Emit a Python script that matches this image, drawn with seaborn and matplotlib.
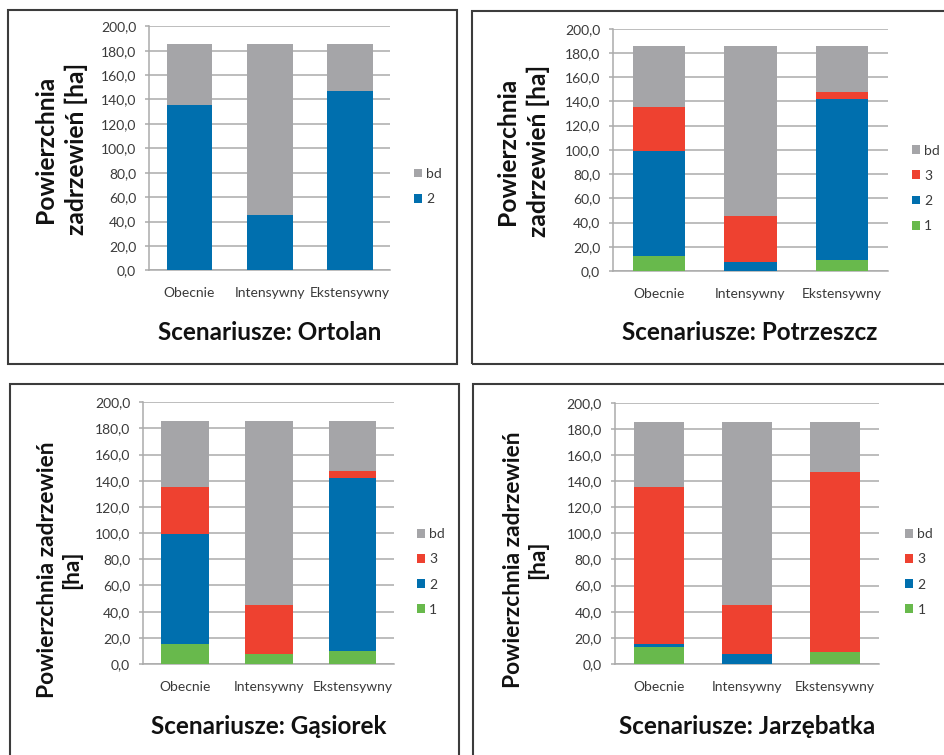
import matplotlib
matplotlib.use("Agg")
import matplotlib.pyplot as plt
from matplotlib.patches import Patch, Rectangle
from matplotlib.ticker import FuncFormatter
import seaborn as sns
import numpy as np

sns.set_theme(style="white")
plt.rcParams["font.family"] = ["Lato", "DejaVu Sans"]

# Scenarios on the category axis
scenarios = ["Obecnie", "Intensywny", "Ekstensywny"]

# Area of tree cover [ha] per suitability class, one list per species
ortolan_2 = [135.3, 45.4, 147.0]
ortolan_bd = [50.2, 140.1, 38.5]

potrzeszcz_1 = [12.4, 0.0, 9.4]
potrzeszcz_2 = [86.9, 7.7, 132.8]
potrzeszcz_3 = [35.9, 37.7, 5.3]
potrzeszcz_bd = [50.3, 140.1, 38.0]

gasiorek_1 = [15.4, 7.6, 9.7]
gasiorek_2 = [84.2, 0.0, 132.7]
gasiorek_3 = [35.7, 37.6, 5.1]
gasiorek_bd = [50.2, 140.3, 38.0]

jarzebatka_1 = [12.8, 0.0, 9.2]
jarzebatka_2 = [2.3, 7.7, 0.0]
jarzebatka_3 = [120.4, 37.5, 137.8]
jarzebatka_bd = [50.0, 140.3, 38.5]

y_ticks = list(range(0, 201, 20))

COLORS = {"1": "#68B94C", "2": "#006FAE", "3": "#EE4130", "bd": "#A5A5A8"}
GRID = "#ABABAB"
TEXT = "#3A3A3A"

W, H = 945, 755
fig = plt.figure(figsize=(W / 100, H / 100), dpi=100)
fig.patch.set_facecolor("white")


def fx(x):
    return x / W


def fy(y):
    return 1 - y / H


def frame(x0, y0, x1, y1):
    fig.patches.append(Rectangle((fx(x0), fy(y1)), fx(x1) - fx(x0), fy(y0) - fy(y1),
                                 transform=fig.transFigure, fill=False,
                                 edgecolor="#3C3C3C", linewidth=1.5, zorder=0))


def panel(box, layers, title, title_xy, ylabel, ylabel_xy, ylabel_size,
          ylabel_spacing, legend_xy):
    x0, y0, x1, y1 = box
    ax = fig.add_axes([fx(x0), fy(y1), fx(x1) - fx(x0), fy(y0) - fy(y1)])
    ax.set_facecolor("none")

    # stack the classes: draw the cumulative totals from the top layer down
    cum = np.zeros(len(scenarios))
    stacks = []
    for name, vals in layers:
        cum = cum + np.asarray(vals, dtype=float)
        stacks.append((name, cum.copy()))
    for name, tops in reversed(stacks):
        sns.barplot(x=scenarios, y=tops, color=COLORS[name], width=0.57,
                    saturation=1, errorbar=None, ax=ax, zorder=3,
                    linewidth=0)

    ax.set_xlim(-0.5, 2.5)
    ax.set_ylim(0, 200)
    ax.set_yticks(y_ticks)
    ax.yaxis.set_major_formatter(FuncFormatter(lambda v, p: f"{v:.1f}".replace(".", ",")))
    ax.set_axisbelow(True)
    ax.grid(axis="y", color=GRID, linewidth=1.1)
    ax.grid(axis="x", visible=False)
    for s in ["top", "right"]:
        ax.spines[s].set_visible(False)
    for s in ["left", "bottom"]:
        ax.spines[s].set_color(GRID)
        ax.spines[s].set_linewidth(1.1)
    ax.tick_params(axis="y", length=3, width=1.1, color=GRID, pad=6.5,
                   labelsize=10, labelcolor=TEXT, left=True)
    ax.tick_params(axis="x", length=0, pad=12, labelsize=10, labelcolor=TEXT)
    ax.set_xlabel("")
    ax.set_ylabel("")

    fig.text(fx(title_xy[0]), fy(title_xy[1]), title, ha="center", va="center",
             fontsize=17.5, fontweight="bold", color="#111111")
    fig.text(fx(ylabel_xy[0]), fy(ylabel_xy[1]), ylabel, ha="center", va="center",
             rotation=90, multialignment="center", fontsize=ylabel_size,
             fontweight="bold", color="#111111", linespacing=ylabel_spacing)

    handles = [Patch(facecolor=COLORS[n], edgecolor="none") for n, _ in reversed(layers)]
    labels = [n for n, _ in reversed(layers)]
    ax.legend(handles, labels, loc="center left",
              bbox_to_anchor=(fx(legend_xy[0]), fy(legend_xy[1])),
              bbox_transform=fig.transFigure, frameon=False, fontsize=10,
              handlelength=0.6, handleheight=0.6, handletextpad=0.3,
              labelspacing=0.95, borderpad=0, borderaxespad=0,
              labelcolor=TEXT)
    return ax


# panel borders
frame(8, 10, 457, 364)
frame(472, 11, 960, 364)
frame(10, 384, 459, 770)
frame(473, 384, 960, 770)

panel((149.3, 26.3, 390, 270.3),
      [("2", ortolan_2), ("bd", ortolan_bd)],
      "Scenariusze: Ortolan", (270, 332),
      "Powierzchnia\nzadrzewień [ha]", (61, 149), 17.7, 1.42, (414, 186.5))

panel((613.3, 28.7, 887.7, 271),
      [("1", potrzeszcz_1), ("2", potrzeszcz_2), ("3", potrzeszcz_3), ("bd", potrzeszcz_bd)],
      "Scenariusze: Potrzeszcz", (750, 332),
      "Powierzchnia\nzadrzewień [ha]", (523, 151), 17.7, 1.42, (911.7, 188.3))

panel((143.3, 402.3, 394.3, 664),
      [("1", gasiorek_1), ("2", gasiorek_2), ("3", gasiorek_3), ("bd", gasiorek_bd)],
      "Scenariusze: Gąsiorek", (268.7, 727),
      "Powierzchnia zadrzewień\n[ha]", (59.5, 570), 16.4, 1.18, (416.7, 572))

panel((615, 402.7, 879.3, 664),
      [("1", jarzebatka_1), ("2", jarzebatka_2), ("3", jarzebatka_3), ("bd", jarzebatka_bd)],
      "Scenariusze: Jarzębatka", (747.5, 727),
      "Powierzchnia zadrzewień\n[ha]", (525.8, 560), 16.4, 1.18, (905, 572))

fig.savefig("out.png", dpi=100, facecolor="white")
